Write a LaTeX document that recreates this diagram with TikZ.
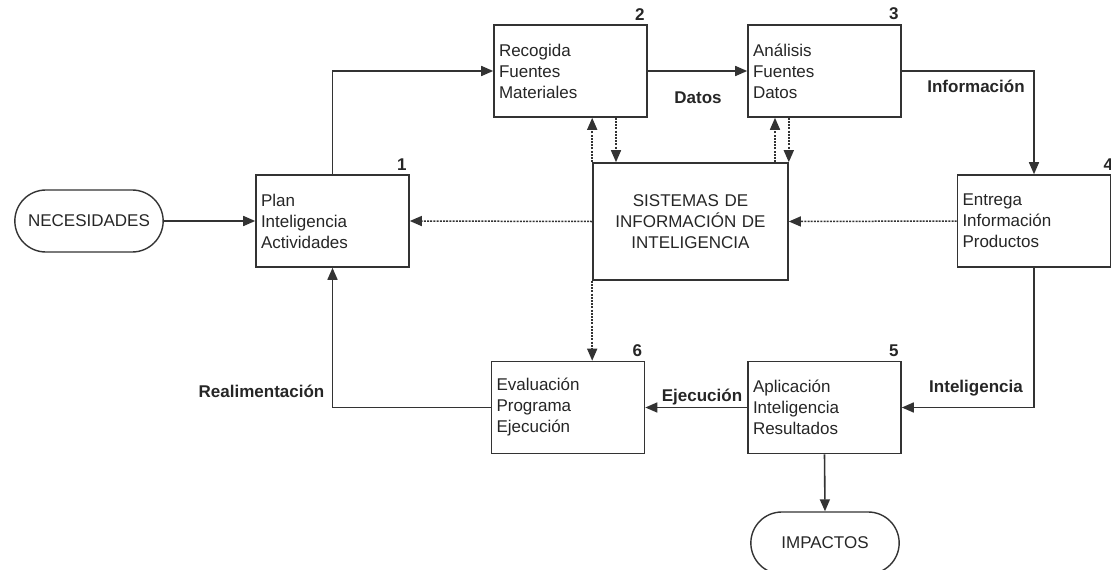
\documentclass[tikz,border=0pt]{standalone}
\usepackage{fontspec}
\setmainfont{Liberation Sans}
\usetikzlibrary{arrows.meta,shapes.misc}
\begin{document}
\begin{tikzpicture}[x=1pt,y=-1pt,
  every node/.style={font=\fontsize{17}{21}\selectfont, text=black!85},
  proc/.style={draw=black!80, line width=1.6pt, fill=white, minimum height=92pt,
    text width=143pt, inner xsep=5pt, align=left},
  hub/.style={draw=black!80, line width=1.6pt, fill=white, minimum width=195pt,
    minimum height=117pt, text width=185pt, align=center},
  term/.style={draw=black!80, line width=1.4pt, rounded rectangle,
    minimum width=155pt, minimum height=62pt},
  flow/.style={draw=black!80, line width=1.6pt, -{Triangle[length=12pt,width=10pt]}},
  info/.style={draw=black!80, line width=1.5pt, dash pattern=on 2pt off 1.2pt,
    -{Triangle[length=12pt,width=10pt]}},
  num/.style={font=\fontsize{17}{21}\selectfont\bfseries, anchor=south east, inner sep=0pt},
  lbl/.style={font=\fontsize{17}{21}\selectfont\bfseries, inner sep=0pt}
]
\useasboundingbox (0,0) rectangle (1111,570);

% terminals
\node[term] (nec) at (89,221) {NECESIDADES};
\node[term] (imp) at (825,543) {IMPACTOS};

% process steps
\node[proc] (b1) at (332.5,221) {Plan\\Inteligencia\\Actividades};
\node[proc] (b2) at (570.5,71) {Recogida\\Fuentes\\Materiales};
\node[proc] (b3) at (824.5,71) {Análisis\\Fuentes\\Datos};
\node[proc] (b4) at (1034,221) {Entrega\\Información\\Productos};
\node[proc] (b5) at (824.5,407.5) {Aplicación\\Inteligencia\\Resultados};
\node[proc] (b6) at (568,407.5) {Evaluación\\Programa\\Ejecución};

% central information system
\node[hub] (cs) at (690.5,221.5) {SISTEMAS DE\\INFORMACIÓN DE\\INTELIGENCIA};

% step numbers
\node[num] at ([shift={(-3,-4)}]b1.north east) {1};
\node[num] at ([shift={(-3,-4)}]b2.north east) {2};
\node[num] at ([shift={(-3,-4)}]b3.north east) {3};
\node[num] at ([shift={(2,-4)}]b4.north east) {4};
\node[num] at ([shift={(-3,-4)}]b5.north east) {5};
\node[num] at ([shift={(-3,-4)}]b6.north east) {6};

% main cycle
\draw[flow] (nec) -- (b1);
\draw[flow] (b1.north) |- (b2.west);
\draw[flow] (b2.east) -- (b3.west);
\draw[flow] (b3.east) -| (b4.north);
\draw[flow] (b4.south) |- (b5.east);
\draw[flow] (b5.west) -- (b6.east);
\draw[flow] (b6.west) -| (b1.south);
\draw[flow] (b5.south) -- (imp.north);

% flow labels
\node[lbl] (datos) at (698,98) {Datos};
\node[lbl] (infor) at (976,86) {Información};
\node[lbl] (intel) at (976,388) {Inteligencia};
\node[lbl] (ejec) at (702,397) {Ejecución};
\node[lbl] (real) at (261.5,391) {Realimentación};

% information exchanges with the central system
\draw[info] (cs.west) -- (b1.east);
\draw[info] (b4.west) -- (cs.east);
\draw[info] (cs.north west) -- (cs.north west |- b2.south);
\draw[info] (cs.south west) -- (cs.south west |- b6.north);
\draw[info] (b2.south -| 616,0) -- (cs.north -| 616,0);
\draw[info] (cs.north -| 775,0) -- (b3.south -| 775,0);
\draw[info] (b3.south -| cs.north east) -- (cs.north east);
\end{tikzpicture}
\end{document}
